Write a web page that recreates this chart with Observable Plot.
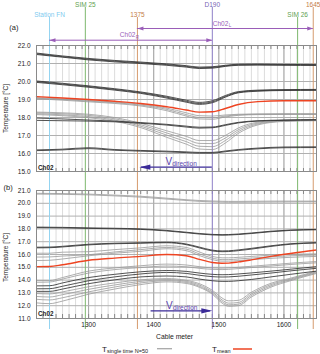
<!DOCTYPE html>
<html><head><meta charset="utf-8">
<script src="https://cdn.jsdelivr.net/npm/d3@7/dist/d3.min.js"></script>
<script src="https://cdn.jsdelivr.net/npm/@observablehq/plot@0.6/dist/plot.umd.min.js"></script>
<style>
html,body{margin:0;padding:0;background:#fff;}
#chart{position:relative;width:320px;height:354px;overflow:hidden;font-family:"Liberation Sans",Arial,sans-serif;}
#chart > svg{position:absolute;left:0;}
</style></head><body><div id="chart"></div>
<script>
// ---------- data ----------
const xA = [1220,1260,1300,1340,1380,1420,1450,1470,1490,1510,1530,1560,1600,1650];
const a1a = [21.58,21.42,21.28,21.17,21.08,20.98,20.88,20.80,20.82,20.90,20.96,20.97,20.95,20.94];
const a1b = [21.54,21.38,21.24,21.13,21.04,20.94,20.84,20.76,20.78,20.87,20.93,20.94,20.93,20.92];
const a1c = [21.50,21.35,21.20,21.09,21.00,20.90,20.80,20.72,20.74,20.84,20.90,20.91,20.90,20.89];
const a2a = [20.03,19.90,19.76,19.60,19.42,19.18,18.96,18.84,18.93,19.22,19.44,19.52,19.55,19.56];
const a2b = [19.99,19.86,19.72,19.56,19.38,19.13,18.90,18.78,18.87,19.17,19.40,19.49,19.52,19.53];
const a2c = [19.95,19.82,19.68,19.52,19.34,19.08,18.85,18.73,18.82,19.13,19.37,19.46,19.50,19.51];
const g1  = [19.10,19.03,18.95,18.86,18.74,18.52,18.26,18.10,18.08,18.14,18.18,18.20,18.21,18.21];
const g2  = [19.07,19.00,18.91,18.82,18.69,18.45,18.16,18.00,17.98,18.08,18.15,18.18,18.19,18.19];
const g3  = [19.04,18.96,18.87,18.78,18.64,18.38,18.08,17.92,17.90,18.03,18.12,18.16,18.17,18.17];
const e1  = [17.97,17.92,17.86,17.80,17.72,17.62,17.52,17.46,17.47,17.60,17.73,17.82,17.86,17.88];
const e2  = [17.84,17.82,17.80,17.76,17.68,17.58,17.47,17.41,17.43,17.56,17.70,17.80,17.84,17.86];
const d1  = [18.30,18.26,18.18,18.00,17.68,17.26,16.95,16.72,16.72,17.00,17.42,17.74,17.85,17.88];
const d2  = [18.26,18.21,18.12,17.93,17.60,17.14,16.80,16.56,16.55,16.86,17.32,17.69,17.82,17.86];
const d3v = [18.21,18.15,18.05,17.86,17.52,17.02,16.66,16.40,16.38,16.72,17.22,17.64,17.80,17.84];
const d4  = [18.16,18.10,17.99,17.79,17.44,16.90,16.52,16.25,16.22,16.58,17.12,17.59,17.78,17.82];
const l1  = [16.20,16.24,16.32,16.22,16.17,16.13,16.09,16.06,16.06,16.14,16.22,16.30,16.36,16.37];
const l2  = [16.16,16.20,16.27,16.18,16.13,16.09,16.05,16.02,16.02,16.10,16.18,16.26,16.32,16.33];
const meanA = [19.16,19.08,19.00,18.90,18.78,18.60,18.42,18.30,18.32,18.50,18.72,18.88,18.93,18.93];

const xB = [1220,1240,1260,1300,1340,1380,1420,1450,1470,1490,1505,1515,1530,1550,1580,1610,1650];
const b1a = [20.78,20.77,20.76,20.72,20.64,20.55,20.40,20.28,20.22,20.18,20.16,20.15,20.15,20.16,20.17,20.17,20.17];
const b1b = [20.72,20.71,20.70,20.66,20.58,20.48,20.33,20.22,20.15,20.11,20.09,20.08,20.08,20.09,20.10,20.11,20.12];
const b2a = [18.14,18.13,18.12,18.08,18.05,18.00,17.88,17.74,17.64,17.57,17.55,17.56,17.60,17.68,17.82,17.91,17.96];
const b2b = [18.10,18.09,18.08,18.04,18.01,17.96,17.84,17.70,17.60,17.53,17.51,17.52,17.56,17.64,17.78,17.88,17.93];
const b3a = [16.57,16.58,16.64,16.80,16.88,16.92,16.96,16.82,16.58,16.34,16.28,16.29,16.36,16.48,16.68,16.84,16.93];
const b3b = [16.52,16.53,16.59,16.75,16.84,16.88,16.92,16.77,16.52,16.28,16.22,16.23,16.30,16.42,16.63,16.80,16.90];
const b4  = [16.10,16.10,16.18,16.22,16.38,16.52,16.68,16.55,16.20,15.85,15.74,15.74,15.78,15.85,15.95,16.02,16.05];
const b5  = [15.80,15.81,15.88,15.98,16.20,16.38,16.55,16.42,16.05,15.72,15.60,15.60,15.65,15.72,15.82,15.90,15.95];
const b6  = [15.53,15.55,15.65,15.90,16.10,16.25,16.45,16.30,15.92,15.60,15.48,15.48,15.52,15.60,15.70,15.78,15.85];
const c1  = [13.96,13.96,14.20,14.70,14.95,15.12,15.25,15.18,15.05,14.95,14.93,14.95,15.00,15.08,15.20,15.32,15.45];
const c2  = [13.83,13.85,14.08,14.55,14.82,14.98,15.10,15.04,14.92,14.84,14.82,14.84,14.90,14.98,15.10,15.22,15.35];
const c3  = [13.55,13.56,13.78,14.20,14.45,14.65,14.75,14.68,14.55,14.45,14.42,14.43,14.48,14.56,14.70,14.85,15.05];
const c4  = [13.32,13.33,13.52,13.95,14.25,14.48,14.60,14.52,14.38,14.27,14.24,14.25,14.30,14.40,14.55,14.72,14.92];
const c5  = [13.12,13.12,13.30,13.72,14.02,14.25,14.32,14.25,14.08,13.95,13.90,13.90,13.95,14.05,14.25,14.45,14.70];
const c6  = [12.95,12.92,13.08,13.48,13.78,14.02,14.12,13.98,13.72,13.20,12.60,12.38,12.42,13.05,13.75,14.15,14.70];
const c7  = [12.72,12.68,12.86,13.28,13.62,13.90,14.04,13.90,13.62,13.08,12.45,12.20,12.25,12.92,13.65,14.08,14.64];
const c8  = [12.50,12.45,12.62,13.08,13.46,13.78,13.95,13.82,13.52,12.98,12.32,12.07,12.12,12.80,13.55,14.02,14.58];
const c9  = [12.22,12.16,12.36,12.90,13.30,13.65,13.86,13.74,13.44,12.90,12.20,11.95,12.00,12.68,13.45,13.95,14.52];
const meanB = [15.05,15.06,15.20,15.55,15.72,15.85,16.00,15.90,15.62,15.38,15.32,15.33,15.42,15.58,15.85,16.08,16.35];

const xTicks = [1300, 1400, 1500, 1600];
const yTicksA = [15, 16, 17, 18, 19, 20, 21, 22];
const yTicksB = [11, 12, 13, 14, 15, 16, 17, 18, 19, 20, 21];
const markerX = [1240, 1295, 1375, 1490, 1621, 1645];
const markerName = ["Station FN", "SIM 25", "1375", "D190", "SIM 26", "1645"];
const markerRow = ["low", "high", "low", "high", "low", "high"];
const ch02L = [1375, 1645];
const ch02R = [1240, 1490];
const vDirA = [1378, 1490];
const vDirB = [1396, 1490];

// ---------- helpers ----------
const rows = (xs, list) => list.flatMap(([id, vals]) => vals.map((v, i) => ({id, x: xs[i], y: v})));
const darkA = rows(xA, [["a1a",a1a],["a1b",a1b],["a1c",a1c],["a2a",a2a],["a2b",a2b],["a2c",a2c],["e1",e1],["e2",e2],["l1",l1],["l2",l2]]);
const grayA = rows(xA, [["g1",g1],["g2",g2],["g3",g3],["d1",d1],["d2",d2],["d3",d3v],["d4",d4]]);
const redA = rows(xA, [["m",meanA]]);
const darkB = rows(xB, [["b2a",b2a],["b2b",b2b],["b3a",b3a],["b3b",b3b],["c3",c3],["c4",c4],["c5",c5]]);
const grayB = rows(xB, [["b1a",b1a],["b1b",b1b],["b4",b4],["b5",b5],["b6",b6],["c1",c1],["c2",c2],["c6",c6],["c7",c7],["c8",c8],["c9",c9]]);
const redB = rows(xB, [["m",meanB]]);

const markers = markerX.map((x, i) => ({x, name: markerName[i], row: markerRow[i]}));
const lineColor = {"Station FN":"#93d4f1","SIM 25":"#7db86e","1375":"#d69b6e","D190":"#8f80c8","SIM 26":"#7db86e","1645":"#d69b6e"};
const textColor = {"Station FN":"#7fcbef","SIM 25":"#5f9f52","1375":"#c47c48","D190":"#7866b6","SIM 26":"#5f9f52","1645":"#c47c48"};

const minorX = [];
for (let m = 1220; m <= 1650; m += 10) minorX.push(m);
const fmt1 = v => v.toFixed(1);
const fmt0 = v => String(v);
const FONT = '"Liberation Sans", Arial, Helvetica, sans-serif';
const PURPLE = "#9a5db8";
const VCOL = "#3b2b98";
const DARK = "#333333", GRAY = "#999999", RED = "#ee4422";

const headLeft = (len, half) => ({draw(c) { c.moveTo(0, 0); c.lineTo(len, -half); c.lineTo(len, half); c.closePath(); }});
const headRight = (len, half) => ({draw(c) { c.moveTo(0, 0); c.lineTo(-len, -half); c.lineTo(-len, half); c.closePath(); }});

function curves(dark, gray, red) {
  return [
    Plot.line(gray, {x: "x", y: "y", z: "id", stroke: GRAY, strokeWidth: 0.8, curve: "monotone-x"}),
    Plot.line(dark, {x: "x", y: "y", z: "id", stroke: DARK, strokeWidth: 0.85, curve: "monotone-x"}),
    Plot.line(red, {x: "x", y: "y", z: "id", stroke: RED, strokeWidth: 1.4, curve: "monotone-x"})
  ];
}

const common = {
  width: 320, marginLeft: 36, marginRight: 4,
  color: {type: "identity"},
  style: {fontFamily: FONT, fontSize: "6.5px", background: "transparent", color: "#222", overflow: "visible"}
};

// ---------- panel (a) ----------
const plotA = Plot.plot({
  ...common,
  height: 180, marginTop: 45, marginBottom: 9,
  x: {domain: [1220, 1650], axis: null},
  y: {domain: [15, 22], axis: null},
  marks: [
    Plot.gridX(minorX, {stroke: "#dcdcdc", strokeOpacity: 1}),
    Plot.gridX(xTicks, {stroke: "#a4a4a4", strokeOpacity: 1}),
    Plot.gridY(yTicksA, {stroke: "#b0b0b0", strokeOpacity: 1}),
    Plot.ruleX(minorX, {stroke: "#888", insetBottom: 122}),
    Plot.ruleX(minorX, {stroke: "#888", insetTop: 123}),
    Plot.ruleX(markers.filter(d => d.row === "high"), {x: "x", stroke: d => lineColor[d.name], insetTop: -38, insetBottom: -9}),
    Plot.ruleX(markers.filter(d => d.row === "low"), {x: "x", stroke: d => lineColor[d.name], insetTop: -28, insetBottom: -9}),
    Plot.text(markers.filter(d => d.row === "high"), {x: "x", frameAnchor: "top", dy: -38.5, text: "name", fill: d => textColor[d.name], lineAnchor: "bottom", fontSize: 6.5}),
    Plot.text(markers.filter(d => d.row === "low"), {x: "x", frameAnchor: "top", dy: -28.5, text: "name", fill: d => textColor[d.name], lineAnchor: "bottom", fontSize: 6.5}),
    Plot.ruleY([22], {x1: ch02L[0], x2: ch02L[1], dy: -17, stroke: PURPLE, strokeWidth: 1}),
    Plot.dot([22], {x: () => ch02L[0], y: d => d, dy: -17, symbol: headLeft(6, 2), fill: PURPLE, stroke: "none"}),
    Plot.dot([22], {x: () => ch02L[1], y: d => d, dy: -17, symbol: headRight(6, 2), fill: PURPLE, stroke: "none"}),
    Plot.ruleY([22], {x1: ch02R[0], x2: ch02R[1], dy: -5.3, stroke: PURPLE, strokeWidth: 1}),
    Plot.dot([22], {x: () => ch02R[0], y: d => d, dy: -5.3, symbol: headLeft(6, 2), fill: PURPLE, stroke: "none"}),
    Plot.dot([22], {x: () => ch02R[1], y: d => d, dy: -5.3, symbol: headRight(6, 2), fill: PURPLE, stroke: "none"}),
    Plot.text(["Ch02"], {x: () => (ch02L[0] + ch02L[1]) / 2, frameAnchor: "top", dx: 3, dy: -19.5, textAnchor: "end", lineAnchor: "bottom", fill: PURPLE, fontSize: 6.5}),
    Plot.text(["L"], {x: () => (ch02L[0] + ch02L[1]) / 2, frameAnchor: "top", dx: 3.3, dy: -18.2, textAnchor: "start", lineAnchor: "bottom", fill: PURPLE, fontSize: 4.5}),
    Plot.text(["Ch02"], {x: () => (ch02R[0] + ch02R[1]) / 2, frameAnchor: "top", dx: 4.5, dy: -8.3, textAnchor: "end", lineAnchor: "bottom", fill: PURPLE, fontSize: 6.5}),
    Plot.text(["R"], {x: () => (ch02R[0] + ch02R[1]) / 2, frameAnchor: "top", dx: 4.8, dy: -7, textAnchor: "start", lineAnchor: "bottom", fill: PURPLE, fontSize: 4.5}),
    ...curves(darkA, grayA, redA),
    Plot.ruleY([15], {x1: vDirA[0] + 3, x2: vDirA[1], dy: -4.3, stroke: VCOL, strokeWidth: 1.2}),
    Plot.dot([15], {x: () => vDirA[0], y: d => d, dy: -4.3, symbol: headLeft(11, 2.6), fill: VCOL, stroke: "none"}),
    Plot.text(["V"], {x: () => 1418, frameAnchor: "bottom", dy: -7, textAnchor: "start", lineAnchor: "bottom", fill: "#5a44ae", fontSize: 10}),
    Plot.text(["direction"], {x: () => 1418, frameAnchor: "bottom", dx: 6.8, dy: -5.6, textAnchor: "start", lineAnchor: "bottom", fill: "#5a44ae", fontSize: 6.5}),
    Plot.frame({stroke: "#8a8a8a"}),
    Plot.axisY(yTicksA, {tickSize: 0, tickPadding: 6, tickFormat: fmt1, fontSize: 6.5, label: null}),
    Plot.text(["Ch02"], {frameAnchor: "bottom-left", dx: 1.5, dy: -2, textAnchor: "start", lineAnchor: "bottom", fontWeight: "bold", fontSize: 6.3, fill: "#222"}),
    Plot.text(["(a)"], {frameAnchor: "top-left", dx: -22.7, dy: -15.7, textAnchor: "middle", lineAnchor: "bottom", fontSize: 7.5, fill: "#222"}),
    Plot.text(["Temperature [°C]"], {frameAnchor: "left", dx: -31, rotate: -90, textAnchor: "middle", lineAnchor: "middle", fontSize: 6.5, fill: "#222"})
  ]
});
plotA.style.top = "0px";

// ---------- panel (b) ----------
const plotB = Plot.plot({
  ...common,
  height: 174, marginTop: 10, marginBottom: 36,
  x: {domain: [1220, 1650]},
  y: {domain: [11, 21], axis: null},
  marks: [
    Plot.gridX(minorX, {stroke: "#dcdcdc", strokeOpacity: 1}),
    Plot.gridX(xTicks, {stroke: "#a4a4a4", strokeOpacity: 1}),
    Plot.gridY(yTicksB, {stroke: "#b0b0b0", strokeOpacity: 1}),
    Plot.ruleX(minorX, {stroke: "#888", insetBottom: 124}),
    Plot.ruleX(minorX, {stroke: "#888", insetTop: 124}),
    Plot.ruleX(markers, {x: "x", stroke: d => lineColor[d.name], insetTop: -10, insetBottom: -11}),
    ...curves(darkB, grayB, redB),
    Plot.ruleY([11], {x1: vDirB[0], x2: vDirB[1] - 3, dy: -7.7, stroke: VCOL, strokeWidth: 1.2}),
    Plot.dot([11], {x: () => vDirB[1], y: d => d, dy: -7.7, symbol: headRight(11, 2.6), fill: VCOL, stroke: "none"}),
    Plot.text(["V"], {x: () => 1419, frameAnchor: "bottom", dy: -10, textAnchor: "start", lineAnchor: "bottom", fill: "#5a44ae", fontSize: 10}),
    Plot.text(["direction"], {x: () => 1419, frameAnchor: "bottom", dx: 6.8, dy: -9, textAnchor: "start", lineAnchor: "bottom", fill: "#5a44ae", fontSize: 6.5}),
    Plot.frame({stroke: "#8a8a8a"}),
    Plot.axisY(yTicksB, {tickSize: 0, tickPadding: 6, tickFormat: fmt1, fontSize: 6.5, label: null}),
    Plot.axisX(xTicks, {tickSize: 0, tickPadding: 4, tickFormat: fmt0, fontSize: 6.5, label: null}),
    Plot.text(["Cable meter"], {frameAnchor: "bottom", dx: -2, dy: 20.5, textAnchor: "middle", lineAnchor: "bottom", fontSize: 6.8, fill: "#222"}),
    Plot.text(["Ch02"], {frameAnchor: "bottom-left", dx: 1.5, dy: -3, textAnchor: "start", lineAnchor: "bottom", fontWeight: "bold", fontSize: 6.3, fill: "#222"}),
    Plot.text(["(b)"], {frameAnchor: "top-left", dx: -28.3, dy: -0.5, textAnchor: "middle", lineAnchor: "bottom", fontSize: 7.5, fill: "#222"}),
    Plot.text(["Temperature [°C]"], {frameAnchor: "left", dx: -31, dy: 3, rotate: -90, textAnchor: "middle", lineAnchor: "middle", fontSize: 6.5, fill: "#222"})
  ]
});
plotB.style.top = "180px";

const chart = document.getElementById("chart");
chart.appendChild(plotA);
chart.appendChild(plotB);

// ---------- legend ----------
const NS = "http://www.w3.org/2000/svg";
const leg = document.createElementNS(NS, "svg");
leg.setAttribute("width", 320); leg.setAttribute("height", 14);
leg.style.position = "absolute"; leg.style.top = "340px"; leg.style.left = "0px";
leg.innerHTML = `
  <g font-family='${FONT}' fill="#222">
    <text x="102" y="11.6" font-size="8">T<tspan font-size="5.5" dy="1.4">single time N=50</tspan></text>
    <line x1="157" x2="172" y1="8.7" y2="8.7" stroke="#a8a8a8" stroke-width="1.3"/>
    <text x="212" y="11.6" font-size="8">T<tspan font-size="5.5" dy="1.4">mean</tspan></text>
    <line x1="233" x2="252" y1="9" y2="9" stroke="${RED}" stroke-width="1.5"/>
  </g>`;
chart.appendChild(leg);
</script></body></html>
